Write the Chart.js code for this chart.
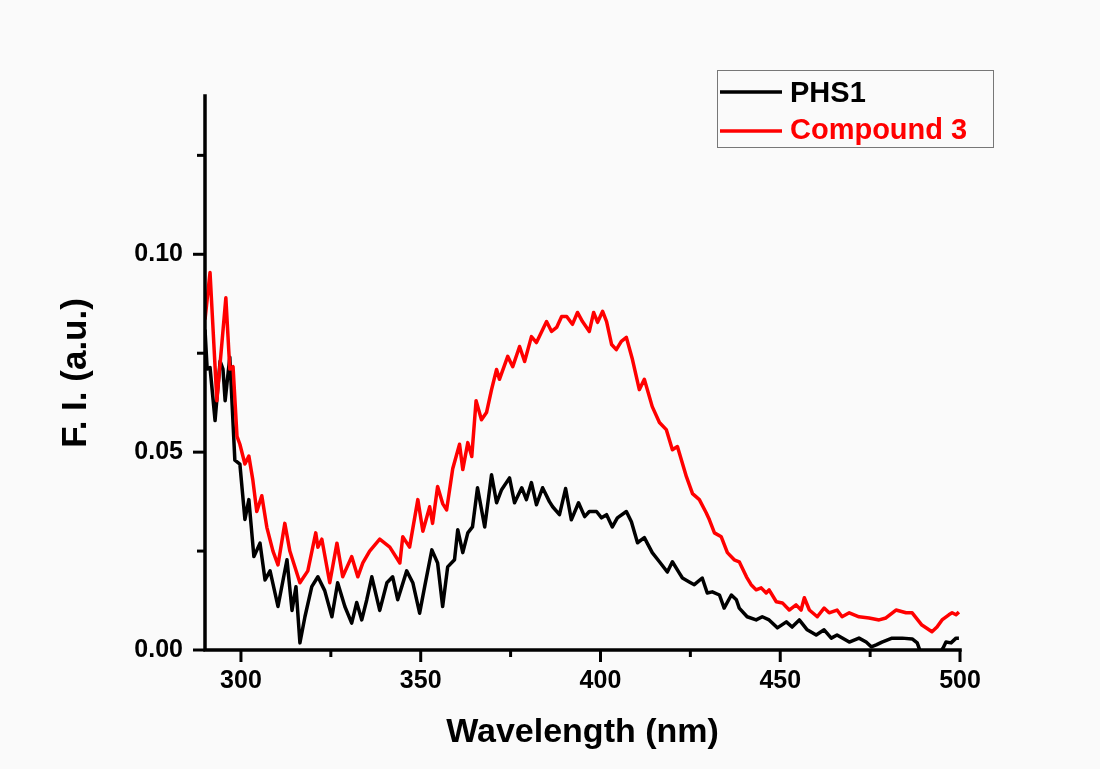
<!DOCTYPE html>
<html>
<head>
<meta charset="utf-8">
<script src="https://cdn.jsdelivr.net/npm/chart.js@4.4.1/dist/chart.umd.min.js"></script>
<style>
  html, body { margin: 0; padding: 0; background: #fafafa; }
  #wrap { width: 1100px; height: 769px; }
</style>
</head>
<body>
<div id="wrap"><canvas id="fi-chart" width="1100" height="769"></canvas></div>
<script>
// PHS1 emission (black)
const phs1Wavelength = [
  290.0, 290.6, 291.4, 292.8, 294.2, 295.0, 295.6, 296.9, 298.3, 299.7,
  301.1, 302.2, 303.6, 305.3, 306.7, 308.1, 310.3, 312.8, 314.2, 315.3,
  316.4, 317.8, 319.7, 321.4, 323.3, 325.3, 326.9, 328.9, 330.8, 332.2,
  333.6, 335.0, 336.4, 338.6, 340.6, 342.2, 343.6, 346.1, 347.8, 349.7,
  351.1, 353.1, 354.7, 356.1, 357.5, 359.4, 360.3, 361.7, 363.1, 364.4,
  365.8, 367.8, 369.7, 371.1, 372.5, 374.7, 376.1, 378.1, 379.4, 380.8,
  382.2, 383.9, 385.8, 386.7, 388.6, 390.3, 391.9, 393.9, 395.6, 396.9,
  398.9, 400.3, 401.7, 403.3, 404.7, 407.2, 408.6, 410.3, 412.2, 414.4,
  416.4, 418.6, 420.0, 421.9, 422.8, 424.7, 426.1, 428.3, 429.7, 431.1,
  433.1, 434.4, 436.4, 437.8, 438.6, 440.8, 443.3, 445.0, 446.9, 449.2,
  451.7, 453.3, 455.3, 457.5, 460.0, 462.2, 464.2, 465.8, 469.2, 471.9,
  473.9, 475.3, 476.7, 478.3, 481.1, 483.9, 486.7, 488.1, 489.2, 491.4,
  494.2, 495.3, 496.1, 497.5, 498.9, 499.7
];
const phs1Intensity = [
  0.0810, 0.0710, 0.0714, 0.0580, 0.0730, 0.0710, 0.0630, 0.0740, 0.0480, 0.0470,
  0.0330, 0.0380, 0.0236, 0.0270, 0.0177, 0.0200, 0.0110, 0.0228, 0.0100, 0.0160,
  0.0018, 0.0084, 0.0160, 0.0185, 0.0150, 0.0084, 0.0170, 0.0110, 0.0068, 0.0120,
  0.0076, 0.0127, 0.0185, 0.0100, 0.0170, 0.0185, 0.0127, 0.0200, 0.0170, 0.0093,
  0.0160, 0.0253, 0.0220, 0.0110, 0.0210, 0.0228, 0.0304, 0.0246, 0.0296, 0.0311,
  0.0410, 0.0311, 0.0443, 0.0372, 0.0405, 0.0435, 0.0372, 0.0410, 0.0380, 0.0423,
  0.0367, 0.0410, 0.0375, 0.0362, 0.0342, 0.0408, 0.0329, 0.0372, 0.0337, 0.0350,
  0.0350, 0.0334, 0.0342, 0.0311, 0.0334, 0.0350, 0.0324, 0.0271, 0.0284, 0.0246,
  0.0223, 0.0197, 0.0223, 0.0195, 0.0182, 0.0172, 0.0165, 0.0182, 0.0144, 0.0147,
  0.0139, 0.0106, 0.0139, 0.0127, 0.0106, 0.0084, 0.0076, 0.0084, 0.0076, 0.0056,
  0.0071, 0.0058, 0.0076, 0.0051, 0.0038, 0.0051, 0.0030, 0.0038, 0.0020, 0.0030,
  0.0020, 0.0008, 0.0013, 0.0020, 0.0030, 0.0030, 0.0028, 0.0018, -0.0010, -0.0020,
  -0.0010, 0.0005, 0.0020, 0.0018, 0.0030, 0.0030
];

// Compound 3 emission (red)
const compound3Wavelength = [
  290.0, 291.4, 293.3, 295.8, 296.9, 297.8, 298.9, 299.7, 301.1, 302.2,
  303.3, 304.4, 305.8, 307.2, 308.9, 310.3, 312.2, 313.6, 316.4, 318.6,
  320.8, 321.4, 322.5, 324.7, 326.7, 328.3, 330.8, 332.5, 333.9, 335.8,
  338.6, 341.4, 344.2, 345.0, 346.9, 349.2, 350.6, 352.5, 353.3, 354.7,
  356.1, 357.2, 358.9, 360.8, 361.7, 363.1, 364.2, 365.4, 366.9, 368.3,
  369.7, 371.1, 371.9, 374.2, 375.6, 377.5, 378.9, 380.8, 382.2, 385.0,
  386.4, 387.8, 389.2, 390.6, 392.2, 393.6, 395.0, 396.9, 398.1, 399.2,
  400.6, 401.7, 403.1, 404.4, 405.8, 407.2, 408.9, 410.8, 412.2, 414.4,
  416.4, 418.3, 420.0, 421.4, 423.9, 425.6, 427.5, 429.4, 430.3, 431.7,
  433.6, 435.3, 437.2, 438.6, 440.6, 441.9, 443.3, 444.7, 446.1, 446.9,
  448.9, 450.6, 452.5, 454.4, 455.8, 456.7, 458.1, 460.3, 462.2, 463.6,
  465.8, 467.2, 469.2, 471.9, 474.7, 477.5, 479.4, 482.2, 485.0, 486.7,
  489.4, 492.2, 493.6, 495.0, 496.9, 497.8, 498.9, 499.7
];
const compound3Intensity = [
  0.0835, 0.0954, 0.0630, 0.0890, 0.0710, 0.0716, 0.0540, 0.0520, 0.0470, 0.0490,
  0.0430, 0.0350, 0.0390, 0.0310, 0.0250, 0.0215, 0.0320, 0.0250, 0.0170, 0.0200,
  0.0296, 0.0260, 0.0280, 0.0170, 0.0270, 0.0185, 0.0236, 0.0185, 0.0220, 0.0250,
  0.0280, 0.0260, 0.0220, 0.0286, 0.0260, 0.0380, 0.0300, 0.0362, 0.0320, 0.0413,
  0.0370, 0.0354, 0.0458, 0.0520, 0.0456, 0.0524, 0.0489, 0.0630, 0.0582, 0.0600,
  0.0658, 0.0709, 0.0684, 0.0742, 0.0716, 0.0767, 0.0729, 0.0792, 0.0777, 0.0830,
  0.0805, 0.0815, 0.0843, 0.0843, 0.0823, 0.0853, 0.0830, 0.0805, 0.0853, 0.0828,
  0.0856, 0.0830, 0.0772, 0.0759, 0.0780, 0.0790, 0.0734, 0.0658, 0.0684, 0.0615,
  0.0575, 0.0557, 0.0506, 0.0514, 0.0438, 0.0395, 0.0380, 0.0347, 0.0329, 0.0296,
  0.0286, 0.0246, 0.0228, 0.0223, 0.0185, 0.0165, 0.0152, 0.0157, 0.0144, 0.0152,
  0.0122, 0.0119, 0.0101, 0.0114, 0.0101, 0.0132, 0.0101, 0.0084, 0.0106, 0.0094,
  0.0101, 0.0084, 0.0094, 0.0084, 0.0081, 0.0076, 0.0081, 0.0101, 0.0094, 0.0094,
  0.0063, 0.0046, 0.0058, 0.0076, 0.0089, 0.0094, 0.0089, 0.0096
];

const seriesLabels = ['PHS1', 'Compound 3'];
const xTickValues = [300, 325, 350, 375, 400, 425, 450, 475, 500];
const xTickLabels = ['300', '', '350', '', '400', '', '450', '', '500'];
const yTickValues = [0, 0.025, 0.05, 0.075, 0.10, 0.125];
const yTickLabels = ['0.00', '', '0.05', '', '0.10', ''];

const fontFamily = "'Liberation Sans', Arial, sans-serif";

function toPoints(xs, ys) {
  return xs.map((x, i) => ({x: x, y: ys[i]}));
}

// Origin-style axes: thick L frame, outward ticks, short minor ticks
const originAxes = {
  id: 'originAxes',
  afterDatasetsDraw(chart) {
    const {ctx, chartArea: a, scales} = chart;
    ctx.save();
    ctx.strokeStyle = '#000';
    ctx.lineWidth = 3.5;
    ctx.lineCap = 'square';
    ctx.beginPath();
    ctx.moveTo(a.left, a.top);
    ctx.lineTo(a.left, a.bottom);
    ctx.lineTo(a.right, a.bottom);
    ctx.stroke();

    ctx.lineWidth = 3;
    ctx.lineCap = 'butt';
    xTickValues.forEach((v, i) => {
      const px = scales.x.getPixelForValue(v);
      const len = xTickLabels[i] ? 12 : 7;
      ctx.beginPath();
      ctx.moveTo(px, a.bottom);
      ctx.lineTo(px, a.bottom + len);
      ctx.stroke();
    });
    yTickValues.forEach((v, i) => {
      const py = scales.y.getPixelForValue(v);
      const len = yTickLabels[i] ? 12 : 8;
      ctx.beginPath();
      ctx.moveTo(a.left, py);
      ctx.lineTo(a.left - len, py);
      ctx.stroke();
    });
    ctx.restore();
  },
  afterDraw(chart) {
    const ctx = chart.ctx;
    const sets = chart.data.datasets;
    ctx.save();
    ctx.strokeStyle = '#777';
    ctx.lineWidth = 1;
    ctx.strokeRect(717.5, 70.5, 276, 77);
    ctx.font = 'bold 29px ' + fontFamily;
    ctx.textBaseline = 'alphabetic';
    const rowY = [92, 131];
    const textY = [102, 139];
    sets.forEach((ds, i) => {
      ctx.strokeStyle = ds.borderColor;
      ctx.lineWidth = 3.5;
      ctx.beginPath();
      ctx.moveTo(720, rowY[i]);
      ctx.lineTo(782, rowY[i]);
      ctx.stroke();
      ctx.fillStyle = ds.borderColor;
      ctx.fillText(ds.label, 790, textY[i]);
    });
    ctx.restore();
  }
};

new Chart(document.getElementById('fi-chart'), {
  type: 'line',
  data: {
    datasets: [
      {
        label: seriesLabels[0],
        data: toPoints(phs1Wavelength, phs1Intensity),
        borderColor: '#000000',
        borderWidth: 3.5,
        borderJoinStyle: 'round',
        pointRadius: 0,
        tension: 0,
        order: 1
      },
      {
        label: seriesLabels[1],
        data: toPoints(compound3Wavelength, compound3Intensity),
        borderColor: '#ff0000',
        borderWidth: 3.5,
        borderJoinStyle: 'round',
        pointRadius: 0,
        tension: 0,
        order: 0
      }
    ]
  },
  options: {
    responsive: false,
    animation: false,
    layout: {padding: {left: 0, top: 96, right: 140, bottom: 0}},
    plugins: {
      legend: {display: false},
      tooltip: {enabled: false}
    },
    scales: {
      x: {
        type: 'linear',
        min: 290,
        max: 500,
        afterBuildTicks: (scale) => { scale.ticks = xTickValues.map(v => ({value: v})); },
        afterFit: (scale) => { scale.height = 119; },
        grid: {drawOnChartArea: false, color: 'rgba(0,0,0,0)', tickLength: 10},
        border: {display: false},
        ticks: {
          autoSkip: false,
          maxRotation: 0,
          padding: 6,
          color: '#000',
          font: {family: fontFamily, size: 25, weight: 'bold', lineHeight: 1.2},
          callback: (value, index) => xTickLabels[index]
        },
        title: {
          display: true,
          text: 'Wavelength (nm)',
          color: '#000',
          padding: {top: 0, bottom: 19},
          font: {family: fontFamily, size: 34, weight: 'bold', lineHeight: 1}
        }
      },
      y: {
        min: 0,
        max: 0.14,
        afterBuildTicks: (scale) => { scale.ticks = yTickValues.map(v => ({value: v})); },
        afterFit: (scale) => { scale.width = 205; },
        grid: {drawOnChartArea: false, color: 'rgba(0,0,0,0)', tickLength: 10},
        border: {display: false},
        ticks: {
          padding: 12,
          color: '#000',
          font: {family: fontFamily, size: 25, weight: 'bold', lineHeight: 1.2},
          callback: (value, index) => yTickLabels[index]
        },
        title: {
          display: true,
          text: 'F. I. (a.u.)',
          color: '#000',
          padding: {top: 59, bottom: 0},
          font: {family: fontFamily, size: 35, weight: 'bold', lineHeight: 1}
        }
      }
    }
  },
  plugins: [originAxes]
});
</script>
</body>
</html>
